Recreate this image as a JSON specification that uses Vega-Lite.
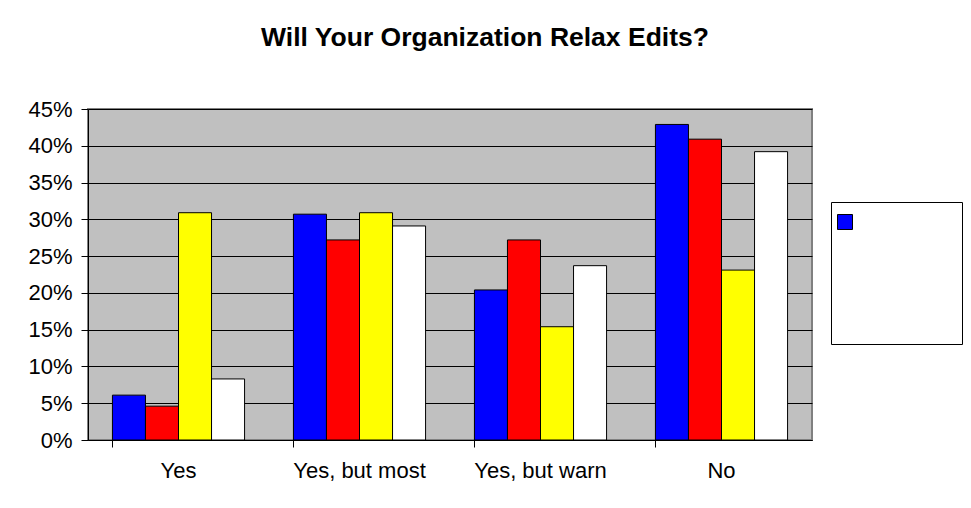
{
  "$schema": "https://vega.github.io/schema/vega-lite/v6.json",
  "width": 724,
  "height": 331,
  "autosize": {"type": "none"},
  "padding": {"left": 88, "top": 109, "right": 159, "bottom": 68},
  "background": "white",
  "title": {
    "text": "Will Your Organization Relax Edits?",
    "font": "Arial, Liberation Sans, sans-serif",
    "fontSize": 26.5,
    "fontWeight": "bold",
    "color": "black",
    "anchor": "middle",
    "frame": "group",
    "baseline": "alphabetic",
    "offset": 26,
    "dx": 35
  },
  "data": {
    "values": [
      {"answer": "Yes", "series": "Series 1", "share": 0.061},
      {"answer": "Yes", "series": "Series 2", "share": 0.046},
      {"answer": "Yes", "series": "Series 3", "share": 0.309},
      {"answer": "Yes", "series": "Series 4", "share": 0.083},
      {"answer": "Yes, but most", "series": "Series 1", "share": 0.307},
      {"answer": "Yes, but most", "series": "Series 2", "share": 0.272},
      {"answer": "Yes, but most", "series": "Series 3", "share": 0.309},
      {"answer": "Yes, but most", "series": "Series 4", "share": 0.291},
      {"answer": "Yes, but warn", "series": "Series 1", "share": 0.204},
      {"answer": "Yes, but warn", "series": "Series 2", "share": 0.272},
      {"answer": "Yes, but warn", "series": "Series 3", "share": 0.154},
      {"answer": "Yes, but warn", "series": "Series 4", "share": 0.237},
      {"answer": "No", "series": "Series 1", "share": 0.429},
      {"answer": "No", "series": "Series 2", "share": 0.409},
      {"answer": "No", "series": "Series 3", "share": 0.231},
      {"answer": "No", "series": "Series 4", "share": 0.392}
    ]
  },
  "mark": {"type": "bar", "stroke": "black", "strokeWidth": 1},
  "encoding": {
    "x": {
      "field": "answer",
      "type": "nominal",
      "sort": ["Yes", "Yes, but most", "Yes, but warn", "No"],
      "scale": {"paddingInner": 0.27, "paddingOuter": 0.135},
      "axis": {
        "title": null,
        "labelAngle": 0,
        "bandPosition": 0,
        "labelFont": "Arial, Liberation Sans, sans-serif",
        "labelFontSize": 22,
        "labelColor": "black",
        "labelPadding": 13,
        "tickSize": 7,
        "tickColor": "black",
        "domainColor": "black",
        "grid": false
      }
    },
    "xOffset": {
      "field": "series",
      "type": "nominal",
      "sort": ["Series 1", "Series 2", "Series 3", "Series 4"],
      "scale": {"paddingInner": 0, "paddingOuter": 0}
    },
    "y": {
      "field": "share",
      "type": "quantitative",
      "scale": {"domain": [0, 0.45], "nice": false},
      "axis": {
        "title": null,
        "format": ".0%",
        "values": [0, 0.05, 0.1, 0.15, 0.2, 0.25, 0.3, 0.35, 0.4, 0.45],
        "labelFont": "Arial, Liberation Sans, sans-serif",
        "labelFontSize": 22,
        "labelColor": "black",
        "labelPadding": 9,
        "tickSize": 7,
        "tickColor": "black",
        "domainColor": "black",
        "gridColor": "black",
        "gridOpacity": 1,
        "gridWidth": 1
      }
    },
    "fill": {
      "field": "series",
      "type": "nominal",
      "sort": ["Series 1", "Series 2", "Series 3", "Series 4"],
      "scale": {
        "domain": ["Series 1", "Series 2", "Series 3", "Series 4"],
        "range": ["#0000FF", "#FF0000", "#FFFF00", "#FFFFFF"]
      },
      "legend": {
        "title": null,
        "orient": "none",
        "legendX": 743,
        "legendY": 93,
        "fillColor": "white",
        "strokeColor": "black",
        "padding": 8,
        "symbolType": "square",
        "symbolSize": 225,
        "symbolOffset": -6,
        "symbolStrokeColor": "black",
        "symbolStrokeWidth": 1,
        "symbolOpacity": 1,
        "labelFontSize": 24,
        "labelOffset": 97,
        "rowPadding": 10,
        "labelExpr": "''",
        "encode": {
          "symbols": {
            "update": {
              "opacity": {"signal": "datum.value === 'Series 1' ? 1 : 0"}
            }
          }
        }
      }
    }
  },
  "config": {
    "view": {"fill": "#C0C0C0", "stroke": "#808080", "strokeWidth": 2},
    "font": "Arial, Liberation Sans, sans-serif"
  }
}
